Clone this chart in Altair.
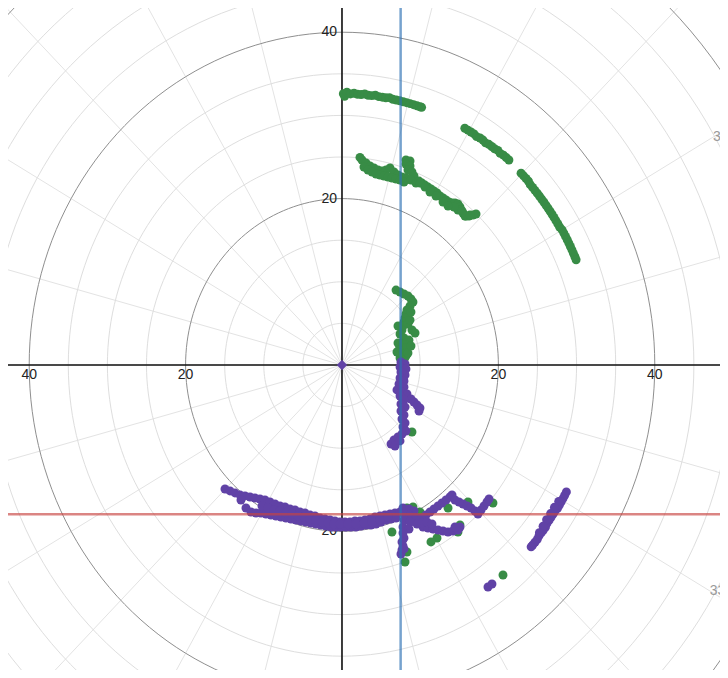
import altair as alt
import numpy as np
import pandas as pd

# ---------------- data ----------------
# green arcs, polar: angle (deg) and radius
g1_t = [89.7, 89.4, 88.9, 88.1, 87.3, 86.5, 85.7, 84.9, 84.1, 83.3, 82.5, 81.7, 80.9,
        80.1, 79.3, 78.5, 77.7, 76.9, 76.1, 75.3, 74.5, 73.7, 72.9, 72.2, 71.8]
g1_r = [32.6, 32.3, 32.8, 32.6, 32.7, 32.6, 32.6, 32.7, 32.6, 32.6, 32.7, 32.6, 32.6,
        32.6, 32.7, 32.6, 32.6, 32.6, 32.6, 32.6, 32.6, 32.6, 32.6, 32.6, 32.6]
g2_t = [61.1, 60.3, 59.5, 58.7, 57.9, 57.1, 56.3, 55.5, 54.7, 53.9, 53.1, 52.3, 51.5,
        50.7, 49.9, 49.1]
g2_r = [32.5, 32.5, 32.5, 32.5, 32.4, 32.5, 32.5, 32.4, 32.5, 32.5, 32.5, 32.6, 32.5,
        32.6, 32.6, 32.6]
g3_t = [45.2, 44.4, 43.6, 42.8, 42.0, 41.2, 40.4, 39.6, 38.8, 38.0, 37.2, 36.4, 35.6,
        34.8, 34.0, 33.2, 32.4, 31.6, 30.8, 30.0, 29.2, 28.4, 27.6, 26.8, 26.0, 25.2,
        24.4, 23.6, 22.9]
g3_r = [32.5, 32.5, 32.5, 32.5, 32.4, 32.4, 32.4, 32.4, 32.4, 32.4, 32.4, 32.4, 32.4,
        32.4, 32.4, 32.4, 32.4, 32.4, 32.4, 32.5, 32.5, 32.5, 32.5, 32.5, 32.5, 32.5,
        32.5, 32.5, 32.5]

# green cluster (cartesian)
g4_x = [2.30, 2.56, 3.07, 3.58, 4.09, 4.60, 5.12, 5.63, 6.14, 6.65, 7.16, 7.67, 8.18,
        2.81, 3.32, 3.84, 4.35, 4.86, 5.37, 5.88, 6.39, 6.91, 7.42, 7.93,
        8.18, 8.70, 8.18, 8.70, 8.44, 8.95, 9.21, 8.82, 9.46,
        9.85, 10.23, 10.61, 11.00, 11.38, 11.76, 12.15, 12.53, 12.92, 13.30, 13.68,
        14.07, 14.45, 14.83, 15.09, 15.22, 15.47, 15.73, 16.24, 16.75, 17.14, 14.83, 14.32,
        9.97, 10.61, 11.25, 12.02, 12.92, 13.56, 15.35, 15.86, 16.37]
g4_y = [24.95, 24.64, 24.28, 23.92, 23.68, 23.44, 23.32, 23.44, 23.68, 23.20, 22.84, 22.60, 22.48,
        23.80, 23.44, 23.20, 22.96, 22.84, 22.72, 22.60, 22.48, 22.36, 22.23, 21.99,
        24.64, 24.52, 24.16, 23.92, 23.44, 23.20, 22.72, 22.24, 21.87,
        22.11, 21.87, 21.63, 21.39, 21.15, 20.91, 20.67, 20.31, 20.07, 19.83, 19.59,
        19.47, 19.47, 19.35, 18.99, 18.63, 18.27, 17.91, 17.91, 18.03, 18.15, 18.63, 18.99,
        21.87, 21.39, 20.79, 20.31, 19.59, 19.11, 18.51, 17.91, 18.03]

# green streak near the blue line and scattered green points
g5_x = [6.91, 7.42, 7.93, 8.44, 8.82, 9.08, 8.70, 8.31, 8.18, 8.06, 7.93, 7.80, 8.44, 8.70,
        8.95, 9.34, 7.67, 7.42, 7.93, 8.57, 7.16, 7.80, 8.18, 7.29, 7.67, 8.18, 7.42, 7.93,
        8.44, 8.95, 8.82, 7.16, 8.82, 7.03]
g5_y = [9.01, 8.77, 8.53, 8.29, 7.93, 7.57, 7.09, 6.61, 6.13, 5.65, 5.17, 4.69, 4.93, 5.41,
        4.21, 3.85, 4.21, 3.73, 3.25, 3.00, 2.64, 2.52, 2.04, 1.80, 1.32, 1.08, 0.84, 0.60,
        1.44, -8.05, 6.37, 4.69, 2.28, 1.56]
g6_x = [8.31, 9.97, 13.56, 15.09, 14.83, 12.15, 11.38, 8.31, 8.06, 19.31, 16.11, 20.59,
        6.39, 9.08, 9.72]
g6_y = [-17.19, -17.67, -17.19, -19.23, -20.07, -20.79, -21.27, -22.48, -23.68, -16.59,
        -16.47, -25.24, -20.07, -17.07, -18.27]

# purple streak near the blue line
p1_x = [7.54, 8.06, 7.42, 8.18, 7.54, 8.06, 7.42, 7.93, 7.29, 7.93, 7.03, 7.67, 8.31, 7.42,
        8.82, 9.21, 9.59, 9.97, 9.85, 7.93, 7.54, 8.06, 7.54, 7.93, 7.67, 8.06, 7.80, 8.18,
        7.67, 7.16, 6.65, 6.27, 6.78, 7.42]
p1_y = [0.36, 0.12, -0.24, -0.48, -0.84, -1.20, -1.56, -1.92, -2.28, -2.64, -3.00, -3.25,
        -3.49, -3.73, -4.09, -4.45, -4.81, -5.17, -5.53, -4.21, -4.69, -5.05, -5.53, -6.01,
        -6.49, -6.97, -7.45, -7.93, -8.29, -8.65, -9.01, -9.50, -9.74, -9.13]

# purple wide arc at the bottom (upper, lower and middle rows)
p2_x = [-14.96, -14.32, -13.68, -13.04, -12.40, -11.76, -11.13, -10.49, -9.85, -9.21,
        -8.57, -7.93, -7.29, -6.65, -6.01, -5.37, -4.73, -4.09, -3.45, -2.81,
        -2.17, -1.53, -0.90, -0.26, 0.38, 1.02, 1.66, 2.30, 2.94, 3.58,
        4.22, 4.86, 5.50, 6.14, 6.78, 7.42,
        -12.92, -12.28, -11.64, -11.00, -10.36, -9.72, -9.08, -8.44, -7.80, -7.16,
        -6.52, -5.88, -5.24, -4.60, -3.96, -3.32, -2.69, -2.05, -1.41, -0.77,
        -0.13, 0.51, 1.15, 1.79, 2.43, 3.07, 3.71, 4.35, 4.99, 5.63, 6.27, 6.91,
        -10.23, -9.46, -8.70, -7.93, -7.16, -6.39, -5.63, -4.86, -4.09, -3.32,
        -2.56, -1.79, -1.02, -0.26, 0.77, 1.79, 2.81, 3.84, 4.86, 5.88]
p2_y = [-14.90, -15.14, -15.38, -15.62, -15.74, -15.87, -15.99, -16.11, -16.23, -16.47,
        -16.71, -16.95, -17.07, -17.31, -17.43, -17.67, -17.79, -18.03, -18.15, -18.39,
        -18.51, -18.63, -18.75, -18.87, -18.87, -18.87, -18.75, -18.75, -18.63, -18.51,
        -18.27, -18.15, -18.03, -17.91, -17.79, -17.67,
        -16.23, -17.19, -17.67, -17.79, -17.79, -17.91, -18.03, -18.15, -18.27, -18.39,
        -18.51, -18.63, -18.75, -18.87, -18.99, -19.11, -19.23, -19.35, -19.47, -19.47,
        -19.47, -19.47, -19.47, -19.47, -19.35, -19.23, -19.23, -19.11, -18.87, -18.63,
        -18.51, -18.39,
        -16.95, -17.19, -17.43, -17.55, -17.79, -17.91, -18.15, -18.27, -18.51, -18.63,
        -18.87, -18.99, -19.11, -19.11, -19.11, -19.11, -18.99, -18.87, -18.63, -18.27]

# purple cluster right of the blue line
p3_x = [7.80, 8.57, 9.21, 7.93, 8.70, 9.46, 7.93, 8.70, 9.59, 7.80, 8.57, 7.80, 7.93, 7.67,
        7.80, 7.67, 7.54, 7.93, 10.36, 11.00, 11.64, 12.28, 12.92, 13.56, 14.19, 14.83,
        15.09, 14.45, 10.23, 10.74, 11.25, 11.76, 12.28, 12.79, 13.30, 13.81, 14.07, 14.45,
        14.96, 15.47, 15.99, 16.50, 17.01, 17.39, 17.78, 18.16, 18.54, 18.80, 18.67, 19.18,
        10.23, 10.87, 11.51]
p3_y = [-17.19, -17.31, -17.55, -17.91, -18.15, -18.39, -18.63, -18.87, -19.11, -19.47,
        -19.71, -20.19, -20.79, -21.27, -21.75, -22.24, -22.72, -22.11, -19.47, -19.59,
        -19.71, -19.83, -19.95, -20.07, -19.95, -19.83, -19.47, -19.47, -18.39, -18.03,
        -17.67, -17.31, -16.95, -16.59, -16.23, -15.87, -15.62, -16.23, -16.47, -16.71,
        -16.95, -17.19, -17.55, -17.91, -17.43, -16.95, -16.47, -16.11, -26.68, -26.32,
        -18.99, -18.87, -19.11]

# purple arc, polar
p4_t = [-28.0, -28.8, -29.6, -30.4, -31.2, -32.0, -32.8, -33.6, -34.4, -35.2, -36.0, -36.8,
        -37.6, -38.4, -39.2, -40.0, -40.8, -41.6, -42.1, -30.6, -32.2, -33.8, -35.4, -37.0,
        -38.6]
p4_r = [32.5, 32.5, 32.5, 32.5, 32.5, 32.5, 32.4, 32.4, 32.4, 32.4, 32.4, 32.5, 32.5,
        32.5, 32.5, 32.6, 32.6, 32.6, 32.6, 32.2, 32.1, 32.1, 32.1, 32.2, 32.3]

origin_x = [0.0]
origin_y = [0.0]

blue_x = [7.5]
red_y = [-17.95]

axis_ticks = [-40, -20, 20, 40]
axis_tick_labels = ["40", "20", "20", "40"]
y_ticks = [40, 20, -20]
y_tick_labels = ["40", "20", "20"]
angle_labels = ["30°", "330°"]
angle_label_deg = [30, 330]
angle_label_r = [54.8, 54.3]

# ---------------- build tables ----------------
def polar(r, t):
    rr = np.array(r, float)
    tt = np.radians(np.array(t, float))
    return rr * np.cos(tt), rr * np.sin(tt)

gx, gy = [], []
for r, t in [(g1_r, g1_t), (g2_r, g2_t), (g3_r, g3_t)]:
    a, b = polar(r, t)
    gx += list(a); gy += list(b)
gx += g4_x + g5_x + g6_x
gy += g4_y + g5_y + g6_y
green = pd.DataFrame({"x": gx, "y": gy})

a, b = polar(p4_r, p4_t)
purple = pd.DataFrame({"x": p1_x + p2_x + p3_x + list(a),
                       "y": p1_y + p2_y + p3_y + list(b)})

rows = []
for r in range(5, 70, 5):
    for i, d in enumerate(range(0, 362, 2)):
        th = np.radians(d)
        rows.append({"r": r, "i": i, "x": r * np.cos(th), "y": r * np.sin(th),
                     "major": r % 20 == 0})
circles = pd.DataFrame(rows)
spokes = pd.DataFrame([{"x": 0.0, "y": 0.0,
                        "x2": 90 * np.cos(np.radians(d)), "y2": 90 * np.sin(np.radians(d))}
                       for d in range(0, 360, 15)])

xs = alt.Scale(domain=[-42.71, 48.34], nice=False, zero=False)
ys = alt.Scale(domain=[-36.66, 42.91], nice=False, zero=False)
X = lambda f: alt.X(f, type="quantitative", scale=xs, axis=None)
Y = lambda f: alt.Y(f, type="quantitative", scale=ys, axis=None)

spoke_layer = alt.Chart(spokes).mark_rule(color="#e3e3e3", strokeWidth=1).encode(
    x=X("x"), y=Y("y"), x2="x2", y2="y2")
minor_layer = alt.Chart(circles[~circles.major]).mark_line(
    color="#dedede", strokeWidth=1).encode(
    x=X("x"), y=Y("y"), detail="r:N", order="i:Q")
major_layer = alt.Chart(circles[circles.major]).mark_line(
    color="#8f8f8f", strokeWidth=1).encode(
    x=X("x"), y=Y("y"), detail="r:N", order="i:Q")

xaxis = alt.Chart(pd.DataFrame({"x": [-50.0], "x2": [60.0], "y": [0.0]})).mark_rule(
    color="#111", strokeWidth=1.6).encode(x=X("x"), x2="x2", y=Y("y"))
yaxis = alt.Chart(pd.DataFrame({"y": [-45.0], "y2": [50.0], "x": [0.0]})).mark_rule(
    color="#111", strokeWidth=1.6).encode(y=Y("y"), y2="y2", x=X("x"))

xl = pd.DataFrame({"x": axis_ticks, "y": [0.0] * 4, "t": axis_tick_labels})
yl = pd.DataFrame({"x": [0.0] * 3, "y": y_ticks, "t": y_tick_labels})
xlab = alt.Chart(xl).mark_text(fontSize=14, font="Liberation Sans", color="#222",
                               baseline="middle", dy=10).encode(x=X("x"), y=Y("y"), text="t")
ylab = alt.Chart(yl).mark_text(fontSize=14, font="Liberation Sans", color="#222",
                               baseline="middle", align="right", dx=-5).encode(
    x=X("x"), y=Y("y"), text="t")
ax, ay = polar(angle_label_r, angle_label_deg)
al = pd.DataFrame({"x": ax, "y": ay, "t": angle_labels})
alab = alt.Chart(al).mark_text(fontSize=14, font="Liberation Sans", color="#999",
                               baseline="middle", align="left").encode(
    x=X("x"), y=Y("y"), text="t")

green_layer = alt.Chart(green).mark_circle(color="#388c46", size=80, opacity=1).encode(
    x=X("x"), y=Y("y"))
purple_layer = alt.Chart(purple).mark_circle(color="#6042a6", size=80, opacity=1).encode(
    x=X("x"), y=Y("y"))
origin_layer = alt.Chart(pd.DataFrame({"x": origin_x, "y": origin_y})).mark_point(
    shape="diamond", filled=True, color="#6042a6", size=110, opacity=1).encode(
    x=X("x"), y=Y("y"))

blue = alt.Chart(pd.DataFrame({"x": blue_x, "y": [-45.0], "y2": [50.0]})).mark_rule(
    color="#2d70b3", strokeWidth=2.5, opacity=0.65).encode(x=X("x"), y=Y("y"), y2="y2")
red = alt.Chart(pd.DataFrame({"y": red_y, "x": [-50.0], "x2": [60.0]})).mark_rule(
    color="#c74440", strokeWidth=2.5, opacity=0.65).encode(y=Y("y"), x=X("x"), x2="x2")

chart = alt.layer(
    spoke_layer, minor_layer, major_layer, xaxis, yaxis, xlab, ylab, alab,
    green_layer, purple_layer, origin_layer, blue, red
).properties(
    width=712, height=662, padding=0, background="white",
    autosize=alt.AutoSizeParams(type="none")
).configure_view(stroke=None)

chart.save("out.html", embed_options={"renderer": "svg", "actions": False})
